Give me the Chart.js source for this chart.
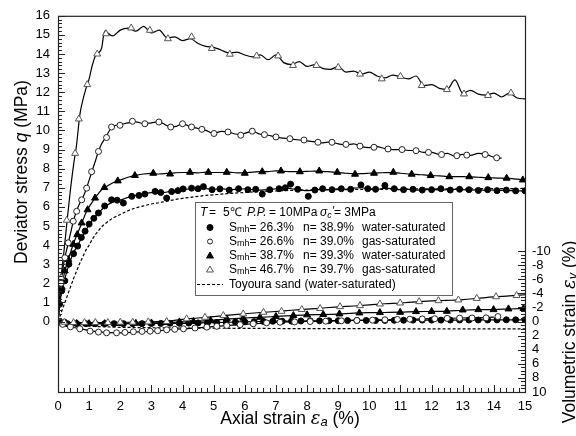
<!DOCTYPE html>
<html>
<head>
<meta charset="utf-8">
<script src="https://cdn.jsdelivr.net/npm/chart.js@4"></script>
<style>
  body { margin: 0; background: #fff; }
  #wrap { width: 576px; height: 436px; }
</style>
</head>
<body>
<div id="wrap"><canvas id="chart"></canvas></div>
<script>
const FONT = '"Liberation Sans", Arial, sans-serif';

// axial strain grid (%) for the deviator stress curves
const qStrain = [0, 0.05, 0.1, 0.2, 0.3, 0.4, 0.5, 0.6, 0.7, 0.8, 0.9, 1.0, 1.1, 1.2, 1.3, 1.4, 1.5,
  1.75, 2, 2.25, 2.5, 2.75, 3, 3.25, 3.5, 3.75, 4, 4.25, 4.5, 4.75, 5, 5.25, 5.5, 5.75, 6, 6.25, 6.5, 6.75,
  7, 7.25, 7.5, 7.75, 8, 8.25, 8.5, 8.75, 9, 9.25, 9.5, 9.75, 10, 10.25, 10.5, 10.75, 11, 11.25, 11.5, 11.75,
  12, 12.25, 12.5, 12.75, 13, 13.25, 13.5, 13.75, 14, 14.25, 14.5, 14.75, 15];

// deviator stress q (MPa)
const qGas467 = [0, 1.2, 2.3, 3.8, 5.4, 6.9, 8.2, 9.3, 10.8, 11.6, 12.2, 12.7, 13.4, 13.9, 14.05, 14.3, 15.2,
  14.95, 15.25, 15.35, 15.2, 15.45, 15.1, 15.25, 14.85, 14.9, 14.7, 14.8, 14.55, 14.4, 14.35, 14.2, 14.05, 14.1,
  13.95, 13.85, 13.95, 13.7, 13.95, 13.55, 13.45, 13.6, 13.35, 13.45, 13.25, 13.2, 13.35, 13.05, 13.1, 12.95,
  13.05, 12.85, 12.75, 12.9, 12.8, 12.7, 12.85, 12.35, 12.4, 12.2, 12.15, 12.65, 11.95, 12.1, 11.9, 11.85,
  11.95, 11.75, 11.95, 11.7, 11.65];
const qGas266 = [0, 1.0, 2.0, 3.2, 3.9, 4.6, 5.3, 5.8, 6.2, 6.5, 6.9, 7.4, 7.9, 8.4, 8.9, 9.3, 9.55,
  10.2, 10.3, 10.4, 10.45, 10.35, 10.4, 10.45, 10.25, 10.2, 10.35, 10.2, 10.1, 10.0, 9.85, 9.95, 9.9, 9.8,
  9.85, 9.95, 9.8, 9.75, 9.65, 9.6, 9.55, 9.5, 9.45, 9.4, 9.35, 9.4, 9.3, 9.25, 9.3, 9.15, 9.1, 9.15, 9.05,
  9.0, 9.0, 8.95, 8.95, 8.85, 8.85, 8.75, 8.8, 8.65, 8.75, 8.7, 8.8, 8.75, 8.6, 8.55];
const qWater387 = [0, 0.9, 1.6, 2.5, 3.1, 3.6, 4.1, 4.5, 4.9, 5.3, 5.7, 6.0, 6.25, 6.5, 6.7, 6.9, 7.0,
  7.25, 7.4, 7.55, 7.65, 7.72, 7.75, 7.72, 7.75, 7.78, 7.8, 7.8, 7.78, 7.82, 7.8, 7.8, 7.82, 7.78, 7.78,
  7.82, 7.84, 7.85, 7.88, 7.86, 7.84, 7.85, 7.86, 7.87, 7.86, 7.83, 7.8, 7.76, 7.73, 7.74, 7.76, 7.78, 7.79,
  7.8, 7.76, 7.72, 7.7, 7.67, 7.64, 7.62, 7.59, 7.58, 7.58, 7.57, 7.55, 7.53, 7.52, 7.5, 7.49, 7.45, 7.4];
const qWater263 = [0, 0.8, 1.4, 2.1, 2.7, 3.2, 3.6, 3.9, 4.2, 4.5, 4.8, 5.05, 5.3, 5.5, 5.7, 5.85, 6.0,
  6.25, 6.35, 6.5, 6.6, 6.68, 6.75, 6.72, 6.78, 6.85, 6.9, 6.95, 6.98, 6.95, 6.92, 6.95, 6.9, 6.92, 6.95,
  6.9, 6.88, 6.9, 6.95, 7.0, 6.95, 6.9, 6.85, 6.9, 6.92, 6.9, 6.95, 6.92, 6.98, 7.0, 6.95, 6.92, 6.98, 6.95,
  6.9, 6.92, 6.88, 6.9, 6.92, 6.88, 6.9, 6.92, 6.9, 6.88, 6.9, 6.86, 6.88, 6.86, 6.85, 6.84, 6.84];
const qToyoura = [0, 0.2, 0.45, 0.9, 1.35, 1.8, 2.25, 2.65, 3.05, 3.4, 3.75, 4.0, 4.3, 4.55, 4.75, 4.95, 5.1,
  5.4, 5.6, 5.8, 5.95, 6.05, 6.15, 6.22, 6.3, 6.38, 6.45, 6.5, 6.55, 6.6, 6.63, 6.67, 6.7, 6.73, 6.75, 6.78,
  6.8, 6.82, 6.83, 6.85, 6.86, 6.87, 6.88, 6.88, 6.89, 6.89, 6.9, 6.9, 6.91, 6.91, 6.92, 6.92, 6.92, 6.93,
  6.93, 6.93, 6.94, 6.94, 6.94, 6.94, 6.95, 6.95, 6.95, 6.95, 6.95, 6.96, 6.96, 6.96, 6.96, 6.96, 6.97];

// marker positions [axial strain, q]
const qMarkGas467 = [[0.1, 2.3], [0.28, 5.3], [0.55, 8.8], [0.67, 10.6], [0.94, 12.4], [1.26, 14.0], [1.54, 15.06],
  [2.35, 15.36], [2.95, 15.24], [3.53, 14.8], [4.29, 14.9], [4.94, 14.29], [5.52, 13.99], [6.38, 13.9],
  [7.07, 13.9], [7.55, 13.4], [8.3, 13.4], [9.0, 13.3], [9.7, 12.95], [10.4, 12.7], [11.0, 12.83],
  [11.68, 12.35], [12.49, 12.14], [13.04, 11.91], [13.81, 11.83], [14.55, 11.96]];
const qMarkGas266 = [[0.1, 2.0], [0.22, 3.34], [0.33, 4.12], [0.49, 5.25], [0.6, 5.77], [0.76, 6.37], [0.92, 6.98],
  [1.08, 7.84], [1.3, 8.9], [1.56, 9.63], [1.72, 10.18], [1.99, 10.27], [2.39, 10.48], [2.79, 10.35],
  [3.24, 10.44], [3.62, 10.18], [4.0, 10.35], [4.29, 10.18], [4.62, 10.06], [5.01, 9.84], [5.46, 9.92],
  [5.87, 9.75], [6.24, 9.96], [6.63, 9.78], [7.0, 9.66], [7.45, 9.57], [7.9, 9.5], [8.35, 9.38], [8.8, 9.38],
  [9.25, 9.27], [9.7, 9.18], [10.15, 9.12], [10.6, 9.03], [11.05, 9.0], [11.5, 8.94], [11.9, 8.85],
  [12.32, 8.74], [12.81, 8.68], [13.13, 8.71], [13.72, 8.74], [14.09, 8.57]];
const qMarkWater387 = [[0.12, 1.8], [0.22, 2.65], [0.33, 3.25], [0.49, 4.04], [0.62, 4.55], [0.76, 5.16], [0.95, 5.85],
  [1.19, 6.46], [1.49, 7.01], [1.92, 7.36], [2.47, 7.64], [3.06, 7.76], [3.6, 7.72], [4.24, 7.81], [4.83, 7.81],
  [5.42, 7.81], [6.0, 7.76], [6.56, 7.84], [7.16, 7.88], [7.77, 7.84], [8.39, 7.88], [8.97, 7.81], [9.54, 7.71],
  [10.15, 7.76], [10.77, 7.81], [11.36, 7.71], [11.97, 7.64], [12.57, 7.58], [13.21, 7.58], [13.82, 7.53],
  [14.41, 7.5], [14.93, 7.41]];
const qMarkWater263 = [[0.05, 0.9], [0.12, 1.61], [0.22, 2.13], [0.35, 3.0], [0.5, 3.55], [0.63, 3.95], [0.75, 4.4],
  [0.87, 4.73], [1.0, 5.1], [1.15, 5.4], [1.3, 5.68], [1.5, 6.05], [1.72, 6.37], [1.9, 6.35], [2.1, 6.2],
  [2.37, 6.55], [2.6, 6.6], [2.79, 6.67], [3.12, 6.81], [3.3, 6.75], [3.49, 6.46], [3.65, 6.8], [3.85, 6.85],
  [4.02, 6.94], [4.29, 6.98], [4.5, 6.95], [4.67, 7.06], [4.95, 6.9], [5.2, 6.94], [5.5, 6.88], [5.8, 6.95],
  [6.1, 6.9], [6.35, 6.92], [6.56, 6.67], [6.8, 6.9], [7.1, 6.95], [7.3, 7.0], [7.47, 7.19], [7.7, 6.92],
  [8.04, 6.55], [8.25, 6.88], [8.5, 6.95], [8.8, 6.9], [9.1, 6.95], [9.4, 6.92], [9.73, 7.15], [9.95, 6.95],
  [10.2, 6.92], [10.5, 7.12], [10.8, 6.95], [11.1, 6.9], [11.4, 6.92], [11.7, 6.88], [12.0, 6.9], [12.3, 6.95],
  [12.6, 6.88], [12.9, 6.92], [13.2, 6.9], [13.5, 6.86], [13.8, 6.9], [14.1, 6.85], [14.4, 6.88], [14.7, 6.84],
  [15.0, 6.84]];

// axial strain grid (%) for the volumetric strain curves
const vStrain = [0, 0.1, 0.25, 0.5, 0.75, 1, 1.5, 2, 2.5, 3, 3.5, 4, 4.5, 5, 5.5, 6, 6.5, 7, 7.5, 8, 8.5,
  9, 9.5, 10, 10.5, 11, 11.5, 12, 12.5, 13, 13.5, 14, 14.5, 15];

// volumetric strain (%), compression positive
const vGas467 = [0, 0.05, 0.1, 0.15, 0.15, 0.15, 0.15, 0.1, 0.1, 0.05, -0.05, -0.3, -0.5, -0.7, -0.9, -1.1,
  -1.28, -1.42, -1.6, -1.75, -1.92, -2.08, -2.2, -2.35, -2.52, -2.63, -2.8, -2.92, -3.0, -3.1, -3.3, -3.5, -3.63, -3.8];
const vGas266 = [0, 0.3, 0.6, 0.85, 1.05, 1.3, 1.55, 1.6, 1.5, 1.38, 1.2, 1.05, 0.9, 0.72, 0.55, 0.4, 0.25,
  0.12, 0.05, 0, -0.05, -0.1, -0.15, -0.2, -0.25, -0.3, -0.35, -0.4, -0.45, -0.5, -0.52, -0.62];
const vWater387 = [0, 0.1, 0.2, 0.25, 0.3, 0.3, 0.3, 0.28, 0.25, 0.2, 0.15, 0.05, -0.05, -0.2, -0.38, -0.5,
  -0.6, -0.72, -0.84, -0.95, -0.99, -1.06, -1.18, -1.25, -1.28, -1.32, -1.4, -1.43, -1.47, -1.6, -1.68, -1.7, -1.78, -1.85];
const vWater263 = [0, 0.15, 0.25, 0.3, 0.3, 0.3, 0.3, 0.3, 0.3, 0.28, 0.25, 0.25, 0.2, 0.15, 0.1, 0.05, 0,
  -0.05, -0.05, -0.1, -0.1, -0.12, -0.15, -0.15, -0.15, -0.18, -0.2, -0.2, -0.2, -0.22, -0.22, -0.22, -0.24, -0.24];
const vToyoura = [0, 0.1, 0.25, 0.45, 0.55, 0.65, 0.75, 0.82, 0.85, 0.88, 0.9, 0.92, 0.93, 0.95, 0.96, 0.97,
  0.98, 0.99, 1.0, 1.0, 1.01, 1.01, 1.02, 1.02, 1.02, 1.03, 1.03, 1.03, 1.04, 1.04, 1.04, 1.05, 1.05, 1.05];

// marker positions [axial strain, volumetric strain]
const vMarkGas467 = [[0.2, 0.1], [0.5, 0.15], [0.85, 0.15], [1.2, 0.15], [1.6, 0.15], [2.0, 0.1], [2.4, 0.1],
  [2.9, 0.05], [3.49, 0], [4.13, -0.38], [4.72, -0.6], [5.31, -0.85], [5.95, -1.08], [6.6, -1.31], [7.18, -1.45],
  [7.83, -1.7], [8.42, -1.85], [9.06, -2.11], [9.7, -2.25], [10.34, -2.49], [10.99, -2.63], [11.6, -2.82],
  [12.22, -2.96], [12.86, -3.06], [13.45, -3.28], [14.07, -3.52], [14.73, -3.7]];
const vMarkGas266 = [[0.15, 0.4], [0.4, 0.75], [0.7, 1.03], [1.03, 1.37], [1.3, 1.5], [1.56, 1.6], [1.88, 1.6],
  [2.15, 1.55], [2.42, 1.45], [2.7, 1.4], [2.96, 1.37], [3.2, 1.3], [3.49, 1.17], [3.75, 1.1], [4.03, 1.03],
  [4.4, 0.92], [4.78, 0.8], [5.1, 0.68], [5.42, 0.56], [5.85, 0.45], [6.27, 0.32], [6.7, 0.2], [7.13, 0.1],
  [7.6, 0.05], [8.1, 0], [8.6, -0.05], [9.1, -0.1], [9.6, -0.15], [10.1, -0.2], [10.5, -0.25], [10.9, -0.3],
  [11.3, -0.33], [11.7, -0.37], [12.1, -0.4], [12.5, -0.45], [12.9, -0.48], [13.3, -0.5], [13.75, -0.52], [14.13, -0.7]];
const vMarkWater387 = [[0.25, 0.2], [0.6, 0.28], [1.0, 0.3], [1.5, 0.3], [2.0, 0.28], [2.5, 0.25], [3.0, 0.2],
  [3.5, 0.15], [3.9, 0.05], [4.35, 0], [4.9, -0.15], [5.42, -0.38], [5.95, -0.48], [6.49, -0.6], [7.0, -0.72],
  [7.56, -0.85], [8.0, -0.95], [8.52, -0.99], [9.04, -1.08], [9.68, -1.22], [10.34, -1.27], [10.99, -1.31],
  [11.5, -1.41], [12.0, -1.43], [12.49, -1.45], [13.0, -1.64], [13.5, -1.69], [13.99, -1.69], [14.47, -1.79], [14.95, -1.85]];
const vMarkWater263 = [[0.1, 0.15], [0.3, 0.3], [0.6, 0.3], [0.9, 0.3], [1.2, 0.3], [1.5, 0.3], [1.8, 0.3],
  [2.1, 0.3], [2.4, 0.3], [2.7, 0.3], [3.0, 0.28], [3.3, 0.27], [3.6, 0.25], [3.9, 0.25], [4.2, 0.22], [4.5, 0.2],
  [4.8, 0.17], [5.1, 0.14], [5.4, 0.1], [5.7, 0.08], [6.0, 0.05], [6.3, 0.02], [6.6, 0], [6.9, -0.04], [7.2, -0.05],
  [7.5, -0.05], [7.8, -0.08], [8.1, -0.1], [8.4, -0.1], [8.7, -0.11], [9.0, -0.12], [9.3, -0.14], [9.6, -0.15],
  [9.9, -0.15], [10.2, -0.15], [10.5, -0.15], [10.8, -0.17], [11.1, -0.18], [11.4, -0.2], [11.7, -0.2], [12.0, -0.2],
  [12.3, -0.2], [12.6, -0.21], [12.9, -0.22], [13.2, -0.22], [13.5, -0.22], [13.8, -0.22], [14.1, -0.23],
  [14.4, -0.24], [14.7, -0.24], [15.0, -0.24]];

// tick labels
const xTicks = [0, 1, 2, 3, 4, 5, 6, 7, 8, 9, 10, 11, 12, 13, 14, 15];
const qTicks = [0, 1, 2, 3, 4, 5, 6, 7, 8, 9, 10, 11, 12, 13, 14, 15, 16];
const vTicks = [-10, -8, -6, -4, -2, 0, 2, 4, 6, 8, 10];

// legend entries
const legendRows = [
  { smh: '26.3%', n: '38.9%', state: 'water-saturated', mark: 'water263' },
  { smh: '26.6%', n: '39.0%', state: 'gas-saturated', mark: 'gas266' },
  { smh: '38.7%', n: '39.3%', state: 'water-saturated', mark: 'water387' },
  { smh: '46.7%', n: '39.7%', state: 'gas-saturated', mark: 'gas467' }
];

const markStyles = {
  gas467: { shape: 'triangle', r: 4, fill: '#fff', stroke: '#555' },
  gas266: { shape: 'circle', r: 3, fill: '#fff', stroke: '#222' },
  water387: { shape: 'triangle', r: 4, fill: '#000', stroke: '#000' },
  water263: { shape: 'circle', r: 3, fill: '#000', stroke: '#000' }
};

const toPts = (xs, ys) => ys.map((y, i) => ({ x: xs[i], y: y }));

function lineSet(xs, ys, axis, dashed) {
  return {
    data: toPts(xs, ys), yAxisID: axis,
    borderColor: '#000', borderWidth: 1.2, pointRadius: 0,
    cubicInterpolationMode: 'monotone',
    borderDash: dashed ? [3, 2] : [], order: 2
  };
}

function markSet(pts, axis, key) {
  const s = markStyles[key];
  return {
    data: pts.map(p => ({ x: p[0], y: p[1] })), yAxisID: axis, showLine: false,
    pointStyle: s.shape, pointRadius: s.r,
    pointBackgroundColor: s.fill, pointBorderColor: s.stroke, pointBorderWidth: 1,
    order: 1
  };
}

// draw text made of pieces with different fonts, starting at x
function drawRich(ctx, x, y, parts) {
  for (const p of parts) {
    ctx.font = p.font;
    ctx.fillText(p.text, x, y + (p.dy || 0));
    x += ctx.measureText(p.text).width;
  }
  return x;
}

function richWidth(ctx, parts) {
  let w = 0;
  for (const p of parts) { ctx.font = p.font; w += ctx.measureText(p.text).width; }
  return w;
}

const decor = {
  id: 'decor',
  afterDraw(chart) {
    const { ctx, chartArea: a, scales } = chart;
    ctx.save();

    // frame
    ctx.strokeStyle = '#222';
    ctx.lineWidth = 1.2;
    ctx.strokeRect(a.left + 0.5, a.top + 0.5, a.right - a.left, a.bottom - a.top);

    // inward ticks, minor and major
    ctx.lineWidth = 1;
    ctx.beginPath();
    for (let i = 0; i <= 75; i++) {
      const px = Math.round(scales.x.getPixelForValue(i / 5)) + 0.5;
      const len = i % 5 === 0 ? 7 : 4;
      ctx.moveTo(px, a.bottom); ctx.lineTo(px, a.bottom - len);
    }
    for (let i = 0; i <= 80; i++) {
      const py = Math.round(scales.q.getPixelForValue(i / 5)) + 0.5;
      const len = i % 5 === 0 ? 7 : 4;
      ctx.moveTo(a.left, py); ctx.lineTo(a.left + len, py);
    }
    for (let i = -20; i <= 20; i++) {
      const py = Math.round(scales.ev.getPixelForValue(i / 2)) + 0.5;
      const len = i % 4 === 0 ? 7 : 4;
      ctx.moveTo(a.right, py); ctx.lineTo(a.right - len, py);
    }
    ctx.stroke();

    // axis titles
    ctx.fillStyle = '#000';
    ctx.textBaseline = 'alphabetic';
    const big = '17.5px ' + FONT;
    const bigIt = 'italic 17.5px ' + FONT;
    const epsIt = 'italic 18px "DejaVu Serif", serif';
    const subIt = 'italic 13px ' + FONT;

    const xTitle = [{ text: 'Axial strain ', font: big }, { text: 'ε', font: epsIt }, { text: 'a', font: subIt, dy: 2 },
      { text: ' (%)', font: big }];
    drawRich(ctx, 290 - richWidth(ctx, xTitle) / 2, 424, xTitle);

    const qTitle = [{ text: 'Deviator stress ', font: big }, { text: 'q', font: bigIt }, { text: ' (MPa)', font: big }];
    ctx.save();
    ctx.translate(27, 172);
    ctx.rotate(-Math.PI / 2);
    drawRich(ctx, -richWidth(ctx, qTitle) / 2, 0, qTitle);
    ctx.restore();

    const vTitle = [{ text: 'Volumetric strain ', font: big }, { text: 'ε', font: epsIt }, { text: 'v', font: subIt, dy: 2 },
      { text: ' (%)', font: big }];
    ctx.save();
    ctx.translate(575, 332);
    ctx.rotate(-Math.PI / 2);
    drawRich(ctx, -richWidth(ctx, vTitle) / 2, 0, vTitle);
    ctx.restore();

    // legend box
    ctx.fillStyle = '#fff';
    ctx.fillRect(196, 203, 256, 92);
    ctx.strokeStyle = '#666';
    ctx.lineWidth = 1;
    ctx.strokeRect(195.5, 202.5, 257, 93);

    ctx.fillStyle = '#000';
    ctx.textBaseline = 'middle';
    const f = '12px ' + FONT, fi = 'italic 12px ' + FONT, fs = '9px ' + FONT, fsi = 'italic 9px ' + FONT;
    const ty = 212.5;
    drawRich(ctx, 200, ty, [{ text: 'T', font: fi }]);
    drawRich(ctx, 209, ty, [{ text: '=', font: f }]);
    drawRich(ctx, 223, ty, [{ text: '5℃', font: f }]);
    drawRich(ctx, 247, ty, [{ text: 'P.P.', font: fi }]);
    drawRich(ctx, 269, ty, [{ text: '= 10MPa', font: f }]);
    drawRich(ctx, 320, ty, [{ text: 'σ', font: fi }, { text: 'c', font: fsi, dy: 3 }, { text: '\'', font: fi, dy: -1 }]);
    drawRich(ctx, 334, ty, [{ text: '= 3MPa', font: f }]);

    const rowY = [227.5, 241.5, 256, 270];
    legendRows.forEach((row, i) => {
      const y = rowY[i];
      const s = markStyles[row.mark];
      ctx.fillStyle = s.fill;
      ctx.strokeStyle = s.stroke;
      Chart.helpers.drawPoint(ctx, { pointStyle: s.shape, radius: s.shape === 'circle' && s.fill === '#fff' ? 2.5 : s.r, borderWidth: 1, rotation: 0 }, 210, y);
      ctx.fillStyle = '#000';
      drawRich(ctx, 229, y, [{ text: 'S', font: f }, { text: 'mh', font: fs, dy: 2 }, { text: '= ' + row.smh, font: f }]);
      drawRich(ctx, 303, y, [{ text: 'n= ' + row.n, font: f }]);
      drawRich(ctx, 362, y, [{ text: row.state, font: f }]);
    });

    ctx.strokeStyle = '#000';
    ctx.setLineDash([3, 2]);
    ctx.beginPath();
    ctx.moveTo(197, 284.5); ctx.lineTo(223, 284.5);
    ctx.stroke();
    ctx.setLineDash([]);
    drawRich(ctx, 229, 284.5, [{ text: 'Toyoura sand (water-saturated)', font: f }]);

    ctx.restore();
  }
};

const tickFont = { family: FONT, size: 13 };

new Chart(document.getElementById('chart'), {
  type: 'line',
  data: {
    datasets: [
      lineSet(qStrain, qGas467, 'q'),
      lineSet(qStrain, qGas266, 'q'),
      lineSet(qStrain, qWater387, 'q'),
      lineSet(qStrain, qWater263, 'q'),
      lineSet(qStrain, qToyoura, 'q', true),
      lineSet(vStrain, vGas467, 'ev'),
      lineSet(vStrain, vGas266, 'ev'),
      lineSet(vStrain, vWater387, 'ev'),
      lineSet(vStrain, vWater263, 'ev'),
      lineSet(vStrain, vToyoura, 'ev', true),
      markSet(qMarkGas467, 'q', 'gas467'),
      markSet(qMarkGas266, 'q', 'gas266'),
      markSet(qMarkWater387, 'q', 'water387'),
      markSet(qMarkWater263, 'q', 'water263'),
      markSet(vMarkGas467, 'ev', 'gas467'),
      markSet(vMarkGas266, 'ev', 'gas266'),
      markSet(vMarkWater387, 'ev', 'water387'),
      markSet(vMarkWater263, 'ev', 'water263')
    ]
  },
  options: {
    responsive: true,
    maintainAspectRatio: false,
    animation: false,
    layout: { padding: { top: 13, left: 0, right: 0, bottom: 0 } },
    scales: {
      x: {
        type: 'linear', position: 'bottom', min: 0, max: 15,
        afterBuildTicks: s => { s.ticks = xTicks.map(v => ({ value: v })); },
        afterFit: s => { s.height = 44; },
        grid: { display: false, drawTicks: false },
        border: { display: false },
        ticks: { padding: 7, color: '#000', font: tickFont, maxRotation: 0, autoSkip: false }
      },
      q: {
        type: 'linear', position: 'left', min: -3.688, max: 16,
        afterBuildTicks: s => { s.ticks = qTicks.map(v => ({ value: v })); },
        afterFit: s => { s.width = 58; },
        grid: { display: false, drawTicks: false },
        border: { display: false },
        ticks: { padding: 8, color: '#000', font: tickFont, autoSkip: false }
      },
      ev: {
        type: 'linear', position: 'right', reverse: true, min: -43.38, max: 10,
        afterBuildTicks: s => { s.ticks = vTicks.map(v => ({ value: v })); },
        afterFit: s => { s.width = 51; },
        grid: { display: false, drawTicks: false },
        border: { display: false },
        ticks: { padding: 7, color: '#000', font: tickFont, autoSkip: false }
      }
    },
    plugins: {
      legend: { display: false },
      tooltip: { enabled: false }
    }
  },
  plugins: [decor]
});
</script>
</body>
</html>
